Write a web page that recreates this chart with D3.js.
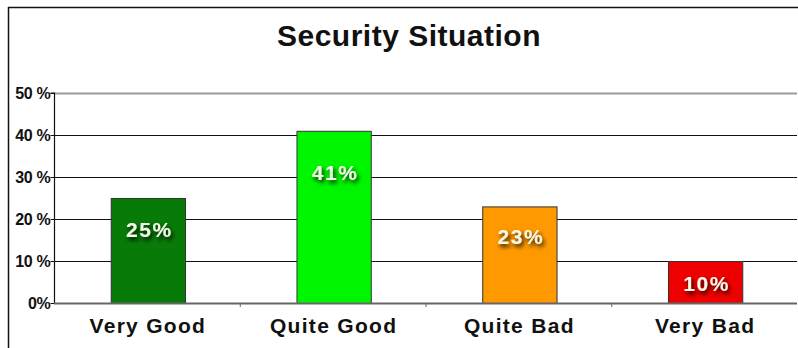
<!DOCTYPE html>
<html>
<head>
<meta charset="utf-8">
<script src="https://cdn.jsdelivr.net/npm/d3@7"></script>
<style>
  html, body { margin: 0; padding: 0; background: #fff; }
  svg { display: block; }
</style>
</head>
<body>
<svg id="chart" width="798" height="348"></svg>
<script>
// Survey results: perception of the security situation
const categories = ["Very Good", "Quite Good", "Quite Bad", "Very Bad"];
const shares = [25, 41, 23, 10];
const barColors = ["#077a07", "#00f600", "#ff9900", "#ee0000"];
const yTicks = [0, 10, 20, 30, 40, 50];
const yTickLabels = ["0%", "10 %", "20 %", "30 %", "40 %", "50 %"];
const chartTitle = "Security Situation";

const svg = d3.select("#chart");
const W = 798, H = 348;
const margin = { left: 54, right: 1, top: 93, bottom: 45 };
const plotW = W - margin.left - margin.right;
const plotH = H - margin.top - margin.bottom;
const FONT = "Liberation Sans, Arial, sans-serif";

const defs = svg.append("defs");
const shadow = defs.append("filter").attr("id", "labelShadow")
  .attr("x", "-30%").attr("y", "-40%").attr("width", "160%").attr("height", "190%");
shadow.append("feGaussianBlur").attr("in", "SourceAlpha").attr("stdDeviation", 2.2).attr("result", "b");
shadow.append("feOffset").attr("in", "b").attr("dx", 2).attr("dy", 3).attr("result", "o");
shadow.append("feComponentTransfer").attr("in", "o").attr("result", "s")
  .append("feFuncA").attr("type", "linear").attr("slope", 0.85);
const merge = shadow.append("feMerge");
merge.append("feMergeNode").attr("in", "s");
merge.append("feMergeNode").attr("in", "SourceGraphic");

// frame lines on the left and top
svg.append("line").attr("x1", 8.5).attr("x2", 8.5).attr("y1", 7).attr("y2", H).attr("stroke", "#111").attr("stroke-width", 1.5);
svg.append("line").attr("x1", 8).attr("x2", W).attr("y1", 7.5).attr("y2", 7.5).attr("stroke", "#111").attr("stroke-width", 1.5);

svg.append("text")
  .attr("x", 409).attr("y", 46)
  .attr("text-anchor", "middle")
  .attr("font-family", FONT)
  .attr("font-weight", "bold")
  .attr("font-size", 30)
  .attr("letter-spacing", 0.5)
  .attr("fill", "#111")
  .text(chartTitle);

const g = svg.append("g").attr("transform", `translate(${margin.left},${margin.top})`);

const x = d3.scaleBand().domain(categories).range([0, plotW]).paddingInner(0.6).paddingOuter(0.3);
const xEdges = d3.scaleBand().domain(categories).range([0, plotW]).padding(0);
const y = d3.scaleLinear().domain([0, 50]).range([plotH, 0]);

// horizontal gridlines
g.append("g").selectAll("line").data(yTicks.filter(t => t > 0)).join("line")
  .attr("x1", 0).attr("x2", plotW)
  .attr("y1", d => Math.round(y(d)) + 0.5).attr("y2", d => Math.round(y(d)) + 0.5)
  .attr("stroke", d => d === 50 ? "#9a9a9a" : "#111")
  .attr("stroke-width", d => d === 50 ? 2 : 1);

// bars
g.append("g").selectAll("rect").data(shares).join("rect")
  .attr("x", (d, i) => x(categories[i]) + 1.5)
  .attr("y", d => y(d) + 0.5)
  .attr("width", x.bandwidth())
  .attr("height", d => plotH - y(d))
  .attr("fill", (d, i) => barColors[i])
  .attr("stroke", "#333")
  .attr("stroke-width", 1);

// value labels inside bars
g.append("g").selectAll("text").data(shares).join("text")
  .attr("x", (d, i) => x(categories[i]) + x.bandwidth() / 2 + 2.5)
  .attr("y", d => y(d) + 23 + 0.155 * (plotH - y(d)))
  .attr("text-anchor", "middle")
  .attr("font-family", FONT)
  .attr("font-weight", "bold")
  .attr("font-size", 21)
  .attr("letter-spacing", 1.5)
  .attr("fill", "#f6f8ec")
  .attr("filter", "url(#labelShadow)")
  .text(d => d + "%");

// y axis
const yAxis = d3.axisLeft(y).tickValues(yTicks).tickSize(4).tickFormat((d, i) => yTickLabels[i]);
const ya = g.append("g").attr("transform", "translate(0.5,0)").call(yAxis);
ya.select(".domain").attr("stroke", "#111").attr("stroke-width", 1.2).attr("d", `M-4,${y(50)}H0V${plotH}`);
ya.selectAll(".tick line").attr("stroke", "#111");
ya.selectAll(".tick text")
  .attr("x", -4)
  .attr("font-family", FONT)
  .attr("font-weight", "bold")
  .attr("font-size", 16)
  .attr("letter-spacing", "-0.3")
  .attr("fill", "#111");

// x axis baseline with ticks between categories
const xa = g.append("g").attr("transform", `translate(0,${plotH})`);
xa.append("line").attr("x1", 0).attr("x2", plotW).attr("y1", 0.5).attr("y2", 0.5)
  .attr("stroke", "#666").attr("stroke-width", 2);
xa.selectAll("line.sep").data(categories.slice(1)).join("line").attr("class", "sep")
  .attr("x1", d => xEdges(d) + 0.5).attr("x2", d => xEdges(d) + 0.5)
  .attr("y1", 0).attr("y2", 4).attr("stroke", "#666");
xa.selectAll("text").data(categories).join("text")
  .attr("x", d => x(d) + x.bandwidth() / 2 + 1)
  .attr("y", 30)
  .attr("text-anchor", "middle")
  .attr("font-family", FONT)
  .attr("font-weight", "bold")
  .attr("font-size", 21)
  .attr("letter-spacing", 1.3)
  .attr("fill", "#111")
  .text(d => d);
</script>
</body>
</html>
